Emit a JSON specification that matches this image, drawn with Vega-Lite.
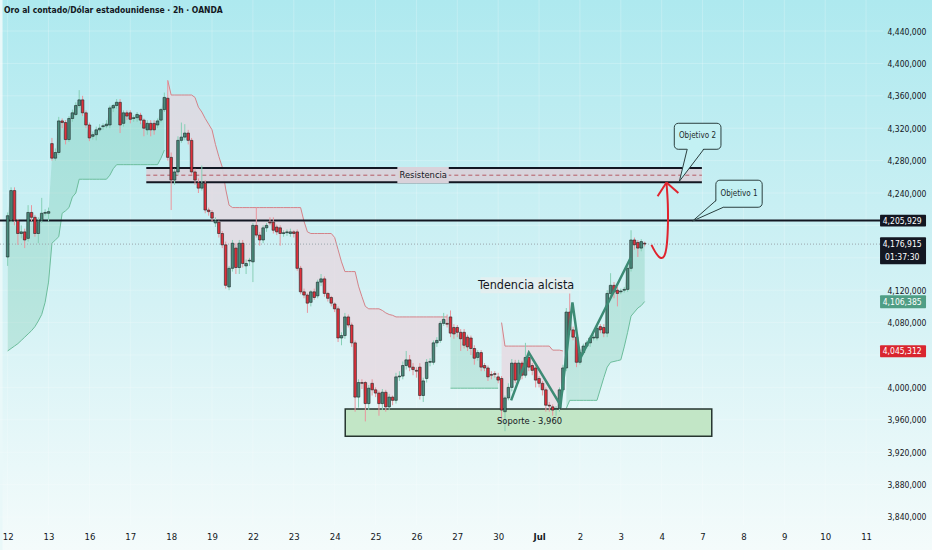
{
  "$schema": "https://vega.github.io/schema/vega-lite/v6.json",
  "width": 883,
  "height": 525,
  "autosize": {"type": "none"},
  "padding": {"left": 0, "top": 0, "right": 49, "bottom": 25},
  "background": "#e9f8f9",
  "title": {"text": "Oro al contado/Dólar estadounidense · 2h · OANDA", "anchor": "start", "frame": "group", "offset": 0, "dx": 4, "dy": 16, "fontSize": 8.5, "fontWeight": "bold", "color": "#131722"},
  "datasets": {
    "candles": [
      {"i":0,"o":4161,"h":4216,"l":4150,"c":4212,"st":4045,"seg":"g1"},
      {"i":1,"o":4206,"h":4247,"l":4204,"c":4243,"st":4048,"seg":"g1"},
      {"i":2,"o":4243,"h":4247,"l":4200,"c":4206,"st":4051,"seg":"g1"},
      {"i":3,"o":4206,"h":4208,"l":4176,"c":4190,"st":4054,"seg":"g1"},
      {"i":4,"o":4190,"h":4200,"l":4184,"c":4192,"st":4058,"seg":"g1"},
      {"i":5,"o":4192,"h":4196,"l":4172,"c":4182,"st":4062,"seg":"g1"},
      {"i":6,"o":4184,"h":4225,"l":4180,"c":4216,"st":4066,"seg":"g1"},
      {"i":7,"o":4216,"h":4225,"l":4205,"c":4210,"st":4070,"seg":"g1"},
      {"i":8,"o":4210,"h":4213,"l":4186,"c":4190,"st":4075,"seg":"g1"},
      {"i":9,"o":4190,"h":4210,"l":4178,"c":4206,"st":4082,"seg":"g1"},
      {"i":10,"o":4206,"h":4234,"l":4203,"c":4215,"st":4090,"seg":"g1"},
      {"i":11,"o":4215,"h":4220,"l":4212,"c":4216,"st":4105,"seg":"g1"},
      {"i":12,"o":4215,"h":4222,"l":4205,"c":4217,"st":4130,"seg":"g1"},
      {"i":13,"o":4301,"h":4308,"l":4280,"c":4283,"st":4178,"seg":"g1"},
      {"i":14,"o":4283,"h":4295,"l":4280,"c":4290,"st":4182,"seg":"g1"},
      {"i":15,"o":4290,"h":4334,"l":4287,"c":4329,"st":4186,"seg":"g1"},
      {"i":16,"o":4329,"h":4332,"l":4320,"c":4327,"st":4215,"seg":"g1"},
      {"i":17,"o":4327,"h":4330,"l":4300,"c":4306,"st":4218,"seg":"g1"},
      {"i":18,"o":4306,"h":4335,"l":4303,"c":4332,"st":4222,"seg":"g1"},
      {"i":19,"o":4332,"h":4343,"l":4328,"c":4339,"st":4235,"seg":"g1"},
      {"i":20,"o":4337,"h":4352,"l":4335,"c":4348,"st":4240,"seg":"g1"},
      {"i":21,"o":4348,"h":4367,"l":4345,"c":4355,"st":4257,"seg":"g1"},
      {"i":22,"o":4355,"h":4360,"l":4335,"c":4339,"st":4257,"seg":"g1"},
      {"i":23,"o":4339,"h":4342,"l":4320,"c":4324,"st":4257,"seg":"g1"},
      {"i":24,"o":4324,"h":4327,"l":4304,"c":4308,"st":4257,"seg":"g1"},
      {"i":25,"o":4310,"h":4316,"l":4306,"c":4312,"st":4257,"seg":"g1"},
      {"i":26,"o":4312,"h":4322,"l":4305,"c":4318,"st":4257,"seg":"g1"},
      {"i":27,"o":4318,"h":4325,"l":4315,"c":4320,"st":4257,"seg":"g1"},
      {"i":28,"o":4322,"h":4326,"l":4318,"c":4323,"st":4257,"seg":"g1"},
      {"i":29,"o":4323,"h":4330,"l":4320,"c":4325,"st":4257,"seg":"g1"},
      {"i":30,"o":4324,"h":4348,"l":4320,"c":4345,"st":4262,"seg":"g1"},
      {"i":31,"o":4345,"h":4350,"l":4340,"c":4348,"st":4270,"seg":"g1"},
      {"i":32,"o":4348,"h":4356,"l":4344,"c":4352,"st":4275,"seg":"g1"},
      {"i":33,"o":4352,"h":4356,"l":4314,"c":4324,"st":4275,"seg":"g1"},
      {"i":34,"o":4326,"h":4342,"l":4322,"c":4339,"st":4275,"seg":"g1"},
      {"i":35,"o":4339,"h":4342,"l":4330,"c":4335,"st":4275,"seg":"g1"},
      {"i":36,"o":4339,"h":4342,"l":4326,"c":4331,"st":4275,"seg":"g1"},
      {"i":37,"o":4332,"h":4336,"l":4328,"c":4333,"st":4275,"seg":"g1"},
      {"i":38,"o":4333,"h":4340,"l":4328,"c":4337,"st":4275,"seg":"g1"},
      {"i":39,"o":4336,"h":4339,"l":4325,"c":4330,"st":4275,"seg":"g1"},
      {"i":40,"o":4330,"h":4332,"l":4310,"c":4320,"st":4275,"seg":"g1"},
      {"i":41,"o":4318,"h":4330,"l":4312,"c":4326,"st":4275,"seg":"g1"},
      {"i":42,"o":4326,"h":4330,"l":4310,"c":4318,"st":4275,"seg":"g1"},
      {"i":43,"o":4326,"h":4330,"l":4312,"c":4318,"st":4275,"seg":"g1"},
      {"i":44,"o":4324,"h":4332,"l":4320,"c":4329,"st":4275,"seg":"g1"},
      {"i":45,"o":4330,"h":4345,"l":4327,"c":4343,"st":4283,"seg":"g1"},
      {"i":46,"o":4343,"h":4364,"l":4340,"c":4358,"st":4293,"seg":"g1"},
      {"i":47,"o":4357,"h":4379,"l":4280,"c":4284,"st":4379,"seg":"r1"},
      {"i":48,"o":4284,"h":4290,"l":4219,"c":4256,"st":4361,"seg":"r1"},
      {"i":49,"o":4256,"h":4270,"l":4250,"c":4266,"st":4361,"seg":"r1"},
      {"i":50,"o":4266,"h":4310,"l":4262,"c":4305,"st":4361,"seg":"r1"},
      {"i":51,"o":4305,"h":4327,"l":4302,"c":4309,"st":4361,"seg":"r1"},
      {"i":52,"o":4309,"h":4325,"l":4305,"c":4314,"st":4361,"seg":"r1"},
      {"i":53,"o":4314,"h":4318,"l":4300,"c":4305,"st":4361,"seg":"r1"},
      {"i":54,"o":4305,"h":4308,"l":4262,"c":4266,"st":4361,"seg":"r1"},
      {"i":55,"o":4266,"h":4270,"l":4250,"c":4256,"st":4358,"seg":"r1"},
      {"i":56,"o":4253,"h":4258,"l":4240,"c":4246,"st":4346,"seg":"r1"},
      {"i":57,"o":4246,"h":4274,"l":4243,"c":4252,"st":4340,"seg":"r1"},
      {"i":58,"o":4252,"h":4256,"l":4215,"c":4219,"st":4332,"seg":"r1"},
      {"i":59,"o":4219,"h":4222,"l":4212,"c":4217,"st":4325,"seg":"r1"},
      {"i":60,"o":4216,"h":4219,"l":4205,"c":4209,"st":4318,"seg":"r1"},
      {"i":61,"o":4203,"h":4210,"l":4198,"c":4206,"st":4300,"seg":"r1"},
      {"i":62,"o":4204,"h":4206,"l":4185,"c":4190,"st":4285,"seg":"r1"},
      {"i":63,"o":4190,"h":4193,"l":4172,"c":4176,"st":4272,"seg":"r1"},
      {"i":64,"o":4176,"h":4180,"l":4122,"c":4126,"st":4245,"seg":"r1"},
      {"i":65,"o":4124,"h":4150,"l":4120,"c":4147,"st":4225,"seg":"r1"},
      {"i":66,"o":4147,"h":4182,"l":4143,"c":4178,"st":4222,"seg":"r1"},
      {"i":67,"o":4172,"h":4178,"l":4140,"c":4148,"st":4222,"seg":"r1"},
      {"i":68,"o":4148,"h":4182,"l":4140,"c":4178,"st":4222,"seg":"r1"},
      {"i":69,"o":4178,"h":4182,"l":4148,"c":4153,"st":4222,"seg":"r1"},
      {"i":70,"o":4150,"h":4158,"l":4140,"c":4153,"st":4222,"seg":"r1"},
      {"i":71,"o":4156,"h":4160,"l":4150,"c":4157,"st":4222,"seg":"r1"},
      {"i":72,"o":4155,"h":4203,"l":4130,"c":4200,"st":4222,"seg":"r1"},
      {"i":73,"o":4200,"h":4222,"l":4185,"c":4188,"st":4222,"seg":"r1"},
      {"i":74,"o":4188,"h":4192,"l":4175,"c":4182,"st":4222,"seg":"r1"},
      {"i":75,"o":4182,"h":4200,"l":4178,"c":4197,"st":4222,"seg":"r1"},
      {"i":76,"o":4197,"h":4203,"l":4192,"c":4200,"st":4222,"seg":"r1"},
      {"i":77,"o":4204,"h":4210,"l":4200,"c":4203,"st":4222,"seg":"r1"},
      {"i":78,"o":4204,"h":4210,"l":4190,"c":4194,"st":4222,"seg":"r1"},
      {"i":79,"o":4198,"h":4201,"l":4188,"c":4192,"st":4222,"seg":"r1"},
      {"i":80,"o":4197,"h":4200,"l":4175,"c":4190,"st":4222,"seg":"r1"},
      {"i":81,"o":4190,"h":4194,"l":4186,"c":4191,"st":4222,"seg":"r1"},
      {"i":82,"o":4191,"h":4195,"l":4187,"c":4192,"st":4222,"seg":"r1"},
      {"i":83,"o":4190,"h":4196,"l":4186,"c":4192,"st":4222,"seg":"r1"},
      {"i":84,"o":4192,"h":4194,"l":4185,"c":4190,"st":4222,"seg":"r1"},
      {"i":85,"o":4192,"h":4195,"l":4144,"c":4147,"st":4222,"seg":"r1"},
      {"i":86,"o":4147,"h":4150,"l":4115,"c":4118,"st":4222,"seg":"r1"},
      {"i":87,"o":4118,"h":4122,"l":4110,"c":4114,"st":4205,"seg":"r1"},
      {"i":88,"o":4114,"h":4116,"l":4092,"c":4104,"st":4192,"seg":"r1"},
      {"i":89,"o":4105,"h":4120,"l":4100,"c":4118,"st":4190,"seg":"r1"},
      {"i":90,"o":4118,"h":4122,"l":4108,"c":4111,"st":4190,"seg":"r1"},
      {"i":91,"o":4113,"h":4133,"l":4110,"c":4130,"st":4190,"seg":"r1"},
      {"i":92,"o":4130,"h":4140,"l":4125,"c":4134,"st":4190,"seg":"r1"},
      {"i":93,"o":4134,"h":4137,"l":4112,"c":4116,"st":4190,"seg":"r1"},
      {"i":94,"o":4116,"h":4118,"l":4106,"c":4110,"st":4190,"seg":"r1"},
      {"i":95,"o":4111,"h":4113,"l":4100,"c":4104,"st":4190,"seg":"r1"},
      {"i":96,"o":4103,"h":4105,"l":4093,"c":4097,"st":4185,"seg":"r1"},
      {"i":97,"o":4097,"h":4100,"l":4056,"c":4061,"st":4170,"seg":"r1"},
      {"i":98,"o":4061,"h":4068,"l":4052,"c":4064,"st":4155,"seg":"r1"},
      {"i":99,"o":4064,"h":4092,"l":4060,"c":4087,"st":4143,"seg":"r1"},
      {"i":100,"o":4087,"h":4090,"l":4074,"c":4077,"st":4143,"seg":"r1"},
      {"i":101,"o":4077,"h":4080,"l":4050,"c":4055,"st":4143,"seg":"r1"},
      {"i":102,"o":4055,"h":4058,"l":3970,"c":3988,"st":4143,"seg":"r1"},
      {"i":103,"o":3988,"h":4010,"l":3975,"c":4006,"st":4125,"seg":"r1"},
      {"i":104,"o":4006,"h":4010,"l":3998,"c":4005,"st":4112,"seg":"r1"},
      {"i":105,"o":4006,"h":4008,"l":3958,"c":3980,"st":4100,"seg":"r1"},
      {"i":106,"o":3980,"h":4003,"l":3972,"c":3999,"st":4097,"seg":"r1"},
      {"i":107,"o":4005,"h":4010,"l":3990,"c":3997,"st":4097,"seg":"r1"},
      {"i":108,"o":3997,"h":4000,"l":3988,"c":3993,"st":4097,"seg":"r1"},
      {"i":109,"o":3993,"h":3996,"l":3965,"c":3980,"st":4097,"seg":"r1"},
      {"i":110,"o":3980,"h":3998,"l":3972,"c":3994,"st":4095,"seg":"r1"},
      {"i":111,"o":3994,"h":3997,"l":3970,"c":3976,"st":4092,"seg":"r1"},
      {"i":112,"o":3976,"h":3992,"l":3972,"c":3988,"st":4090,"seg":"r1"},
      {"i":113,"o":3988,"h":3990,"l":3978,"c":3984,"st":4089,"seg":"r1"},
      {"i":114,"o":3984,"h":4018,"l":3980,"c":4013,"st":4087,"seg":"r1"},
      {"i":115,"o":4013,"h":4020,"l":4008,"c":4014,"st":4087,"seg":"r1"},
      {"i":116,"o":4014,"h":4032,"l":4010,"c":4027,"st":4087,"seg":"r1"},
      {"i":117,"o":4027,"h":4045,"l":4022,"c":4034,"st":4087,"seg":"r1"},
      {"i":118,"o":4034,"h":4040,"l":4020,"c":4025,"st":4087,"seg":"r1"},
      {"i":119,"o":4025,"h":4030,"l":4015,"c":4022,"st":4087,"seg":"r1"},
      {"i":120,"o":4021,"h":4025,"l":4012,"c":4020,"st":4087,"seg":"r1"},
      {"i":121,"o":4025,"h":4030,"l":3985,"c":3990,"st":4087,"seg":"r1"},
      {"i":122,"o":3990,"h":4012,"l":3982,"c":4008,"st":4087,"seg":"r1"},
      {"i":123,"o":4011,"h":4035,"l":4006,"c":4031,"st":4087,"seg":"r1"},
      {"i":124,"o":4031,"h":4036,"l":4026,"c":4032,"st":4087,"seg":"r1"},
      {"i":125,"o":4031,"h":4058,"l":4028,"c":4055,"st":4087,"seg":"r1"},
      {"i":126,"o":4055,"h":4062,"l":4050,"c":4058,"st":4087,"seg":"r1"},
      {"i":127,"o":4058,"h":4082,"l":4055,"c":4079,"st":4087,"seg":"r1"},
      {"i":128,"o":4079,"h":4092,"l":4076,"c":4084,"st":4087,"seg":"r1"},
      {"i":129,"o":4079,"h":4090,"l":4074,"c":4078,"st":4087,"seg":"r1"},
      {"i":130,"o":4087,"h":4095,"l":4062,"c":4067,"st":3999,"seg":"g2"},
      {"i":131,"o":4074,"h":4078,"l":4060,"c":4066,"st":3999,"seg":"g2"},
      {"i":132,"o":4074,"h":4077,"l":4062,"c":4068,"st":3999,"seg":"g2"},
      {"i":133,"o":4068,"h":4072,"l":4045,"c":4060,"st":3999,"seg":"g2"},
      {"i":134,"o":4068,"h":4072,"l":4048,"c":4052,"st":3999,"seg":"g2"},
      {"i":135,"o":4062,"h":4065,"l":4045,"c":4050,"st":3999,"seg":"g2"},
      {"i":136,"o":4061,"h":4064,"l":4040,"c":4048,"st":3999,"seg":"g2"},
      {"i":137,"o":4048,"h":4052,"l":4028,"c":4036,"st":3999,"seg":"g2"},
      {"i":138,"o":4037,"h":4046,"l":4033,"c":4043,"st":3999,"seg":"g2"},
      {"i":139,"o":4043,"h":4046,"l":4020,"c":4025,"st":3999,"seg":"g2"},
      {"i":140,"o":4027,"h":4030,"l":4020,"c":4024,"st":3999,"seg":"g2"},
      {"i":141,"o":4024,"h":4027,"l":4008,"c":4013,"st":3999,"seg":"g2"},
      {"i":142,"o":4016,"h":4020,"l":4010,"c":4015,"st":3999,"seg":"g2"},
      {"i":143,"o":4017,"h":4020,"l":4012,"c":4016,"st":3999,"seg":"g2"},
      {"i":144,"o":4013,"h":4018,"l":4005,"c":4009,"st":3999,"seg":"g2"},
      {"i":145,"o":4011,"h":4014,"l":3960,"c":3972,"st":4080,"seg":"r2"},
      {"i":146,"o":3970,"h":3990,"l":3946,"c":3987,"st":4051,"seg":"r2"},
      {"i":147,"o":3987,"h":4005,"l":3984,"c":4000,"st":4051,"seg":"r2"},
      {"i":148,"o":4000,"h":4035,"l":3995,"c":4030,"st":4051,"seg":"r2"},
      {"i":149,"o":4030,"h":4034,"l":4005,"c":4009,"st":4051,"seg":"r2"},
      {"i":150,"o":4009,"h":4034,"l":4005,"c":4030,"st":4051,"seg":"r2"},
      {"i":151,"o":4030,"h":4033,"l":4010,"c":4015,"st":4051,"seg":"r2"},
      {"i":152,"o":4015,"h":4055,"l":4012,"c":4037,"st":4051,"seg":"r2"},
      {"i":153,"o":4037,"h":4040,"l":4020,"c":4025,"st":4051,"seg":"r2"},
      {"i":154,"o":4027,"h":4030,"l":4015,"c":4021,"st":4051,"seg":"r2"},
      {"i":155,"o":4024,"h":4027,"l":4000,"c":4009,"st":4051,"seg":"r2"},
      {"i":156,"o":4011,"h":4014,"l":4000,"c":4005,"st":4051,"seg":"r2"},
      {"i":157,"o":4005,"h":4008,"l":3990,"c":3997,"st":4051,"seg":"r2"},
      {"i":158,"o":3997,"h":4000,"l":3970,"c":3978,"st":4051,"seg":"r2"},
      {"i":159,"o":3978,"h":3982,"l":3970,"c":3977,"st":4051,"seg":"r2"},
      {"i":160,"o":3976,"h":3979,"l":3965,"c":3972,"st":4046,"seg":"r2"},
      {"i":161,"o":3973,"h":3977,"l":3965,"c":3974,"st":4046,"seg":"r2"},
      {"i":162,"o":3974,"h":4000,"l":3970,"c":3997,"st":4046,"seg":"r2"},
      {"i":163,"o":3997,"h":4028,"l":3994,"c":4024,"st":4045,"seg":"r2"},
      {"i":164,"o":4024,"h":4098,"l":4020,"c":4093,"st":3974,"seg":"g3"},
      {"i":165,"o":4093,"h":4116,"l":4068,"c":4071,"st":3984,"seg":"g3"},
      {"i":166,"o":4071,"h":4075,"l":4058,"c":4062,"st":3984,"seg":"g3"},
      {"i":167,"o":4062,"h":4065,"l":4025,"c":4031,"st":3984,"seg":"g3"},
      {"i":168,"o":4031,"h":4047,"l":4028,"c":4043,"st":3984,"seg":"g3"},
      {"i":169,"o":4043,"h":4054,"l":4040,"c":4051,"st":3984,"seg":"g3"},
      {"i":170,"o":4051,"h":4058,"l":4048,"c":4055,"st":3984,"seg":"g3"},
      {"i":171,"o":4055,"h":4064,"l":4050,"c":4061,"st":3984,"seg":"g3"},
      {"i":172,"o":4061,"h":4065,"l":4058,"c":4062,"st":3984,"seg":"g3"},
      {"i":173,"o":4061,"h":4076,"l":4058,"c":4073,"st":3984,"seg":"g3"},
      {"i":174,"o":4075,"h":4078,"l":4067,"c":4071,"st":3998,"seg":"g3"},
      {"i":175,"o":4074,"h":4078,"l":4062,"c":4067,"st":4012,"seg":"g3"},
      {"i":176,"o":4067,"h":4120,"l":4062,"c":4116,"st":4025,"seg":"g3"},
      {"i":177,"o":4116,"h":4141,"l":4112,"c":4126,"st":4031,"seg":"g3"},
      {"i":178,"o":4126,"h":4130,"l":4110,"c":4118,"st":4032,"seg":"g3"},
      {"i":179,"o":4120,"h":4124,"l":4100,"c":4116,"st":4033,"seg":"g3"},
      {"i":180,"o":4118,"h":4122,"l":4115,"c":4119,"st":4034,"seg":"g3"},
      {"i":181,"o":4120,"h":4124,"l":4117,"c":4121,"st":4050,"seg":"g3"},
      {"i":182,"o":4121,"h":4150,"l":4118,"c":4147,"st":4068,"seg":"g3"},
      {"i":183,"o":4147,"h":4194,"l":4143,"c":4182,"st":4088,"seg":"g3"},
      {"i":184,"o":4182,"h":4185,"l":4170,"c":4176,"st":4093,"seg":"g3"},
      {"i":185,"o":4179,"h":4182,"l":4161,"c":4172,"st":4098,"seg":"g3"},
      {"i":186,"o":4172,"h":4183,"l":4168,"c":4180,"st":4101,"seg":"g3"},
      {"i":187,"o":4178,"h":4180,"l":4174,"c":4177,"st":4106,"seg":"g3"}
    ]
  },
  "layer": [
    {
      "data": {"values": [{"x1": -1.5, "x2": 272, "y1": 3799, "y2": 4478.3}]},
      "mark": {"type": "rect", "fill": {"gradient": "linear", "x1": 0, "y1": 0, "x2": 0, "y2": 1, "stops": [{"offset": 0, "color": "#aee9ef"}, {"offset": 0.55, "color": "#d4f2f5"}, {"offset": 1, "color": "#f4fbfb"}]}},
      "encoding": {
        "x": {"field": "x1", "type": "quantitative", "title": null, "scale": {"domain": [-0.78, 255.5], "nice": false, "zero": false},
          "axis": {"zindex": 2, "labelOverlap": false, "labelFlush": false, "tickCount": 40, "values": [0,12,24,36,48,60,72,84,96,108,120,132,144,156,168,180,192,204,216,228,240,252],
            "labelExpr": "['12','13','16','17','18','19','22','23','24','25','26','27','30','Jul','2','3','4','7','8','9','10','11'][round(datum.value/12)]",
            "labelFontWeight": {"condition": {"test": "datum.value == 156", "value": "bold"}, "value": "normal"}}},
        "x2": {"field": "x2"},
        "y": {"field": "y1", "type": "quantitative", "title": null, "scale": {"domain": [3830.1, 4478.3], "nice": false, "zero": false},
          "axis": {"zindex": 2, "labelOverlap": false, "tickCount": 40, "orient": "right", "values": [3840,3880,3920,3960,4000,4080,4120,4240,4280,4320,4360,4400,4440,4480],
            "labelExpr": "replace(format(datum.value, ',.3f'), '.', ',')"}},
        "y2": {"field": "y2"}
      }
    },
    {
      "data": {"values": [{"v":0},{"v":12},{"v":24},{"v":36},{"v":48},{"v":60},{"v":72},{"v":84},{"v":96},{"v":108},{"v":120},{"v":132},{"v":144},{"v":156},{"v":168},{"v":180},{"v":192},{"v":204},{"v":216},{"v":228},{"v":240},{"v":252}]},
      "mark": {"type": "rule", "color": "#ffffff", "opacity": 0.22, "strokeWidth": 1},
      "encoding": {
        "x": {"field": "v", "type": "quantitative", "title": null, "scale": {"domain": [-0.78, 255.5], "nice": false, "zero": false}}
      }
    },
    {
      "data": {"values": [{"v":3840},{"v":3880},{"v":3920},{"v":3960},{"v":4000},{"v":4040},{"v":4080},{"v":4120},{"v":4160},{"v":4200},{"v":4240},{"v":4280},{"v":4320},{"v":4360},{"v":4400},{"v":4440},{"v":4480}]},
      "mark": {"type": "rule", "color": "#ffffff", "opacity": 0.22, "strokeWidth": 1},
      "encoding": {
        "y": {"field": "v", "type": "quantitative", "title": null, "scale": {"domain": [3830.1, 4478.3], "nice": false, "zero": false}}
      }
    },
    {
      "data": {"name": "candles"},
      "mark": {"type": "area", "interpolate": "linear"},
      "encoding": {
        "x": {"field": "i", "type": "quantitative", "title": null, "scale": {"domain": [-0.78, 255.5], "nice": false, "zero": false}},
        "y": {"field": "st", "type": "quantitative", "title": null, "scale": {"domain": [3830.1, 4478.3], "nice": false, "zero": false}},
        "y2": {"field": "c"},
        "fill": {"field": "seg", "type": "nominal", "scale": {"domain": ["g1","r1","g2","r2","g3"], "range": ["rgba(90,190,150,0.24)","rgba(232,214,222,0.72)","rgba(90,190,150,0.24)","rgba(232,214,222,0.72)","rgba(90,190,150,0.24)"]}, "legend": null}
      }
    },
    {
      "data": {"name": "candles"},
      "mark": {"type": "line", "strokeWidth": 1},
      "encoding": {
        "x": {"field": "i", "type": "quantitative", "title": null, "scale": {"domain": [-0.78, 255.5], "nice": false, "zero": false}},
        "y": {"field": "st", "type": "quantitative", "title": null, "scale": {"domain": [3830.1, 4478.3], "nice": false, "zero": false}},
        "stroke": {"field": "seg", "type": "nominal", "scale": {"domain": ["g1","r1","g2","r2","g3"], "range": ["#6cbd9c","#d48389","#6cbd9c","#d48389","#6cbd9c"]}, "legend": null}
      }
    },
    {
      "data": {"values": [{"x1": 40.7, "x2": 203.8, "y1": 4253.3, "y2": 4271}]},
      "mark": {"type": "rect", "fill": "#d9d2da", "opacity": 0.95},
      "encoding": {
        "x": {"field": "x1", "type": "quantitative", "title": null, "scale": {"domain": [-0.78, 255.5], "nice": false, "zero": false}},
        "x2": {"field": "x2"},
        "y": {"field": "y1", "type": "quantitative", "title": null, "scale": {"domain": [3830.1, 4478.3], "nice": false, "zero": false}},
        "y2": {"field": "y2"}
      }
    },
    {
      "data": {"values": [{"x1": 40.7, "x2": 203.8, "y": 4271}, {"x1": 40.7, "x2": 203.8, "y": 4253.3}]},
      "mark": {"type": "rule", "color": "#131722", "strokeWidth": 2},
      "encoding": {
        "x": {"field": "x1", "type": "quantitative", "title": null, "scale": {"domain": [-0.78, 255.5], "nice": false, "zero": false}},
        "x2": {"field": "x2"},
        "y": {"field": "y", "type": "quantitative", "title": null, "scale": {"domain": [3830.1, 4478.3], "nice": false, "zero": false}}
      }
    },
    {
      "data": {"values": [{"x1": 40.7, "x2": 203.8, "y": 4262}]},
      "mark": {"type": "rule", "color": "#b45a64", "strokeWidth": 1, "strokeDash": [4, 3]},
      "encoding": {
        "x": {"field": "x1", "type": "quantitative", "title": null, "scale": {"domain": [-0.78, 255.5], "nice": false, "zero": false}},
        "x2": {"field": "x2"},
        "y": {"field": "y", "type": "quantitative", "title": null, "scale": {"domain": [3830.1, 4478.3], "nice": false, "zero": false}}
      }
    },
    {
      "data": {"values": [{"x1": 99.1, "x2": 206.7, "y1": 3939.7, "y2": 3973.4}]},
      "mark": {"type": "rect", "fill": "#c2e6c6", "stroke": "#26352f", "strokeWidth": 1.5},
      "encoding": {
        "x": {"field": "x1", "type": "quantitative", "title": null, "scale": {"domain": [-0.78, 255.5], "nice": false, "zero": false}},
        "x2": {"field": "x2"},
        "y": {"field": "y1", "type": "quantitative", "title": null, "scale": {"domain": [3830.1, 4478.3], "nice": false, "zero": false}},
        "y2": {"field": "y2"}
      }
    },
    {
      "data": {"values": [{"y": 4205.929}]},
      "mark": {"type": "rule", "color": "#131722", "strokeWidth": 2},
      "encoding": {
        "y": {"field": "y", "type": "quantitative", "title": null, "scale": {"domain": [3830.1, 4478.3], "nice": false, "zero": false}}
      }
    },
    {
      "data": {"values": [{"y": 4176.915}]},
      "mark": {"type": "rule", "color": "#9aa5ab", "strokeWidth": 1, "strokeDash": [1, 2]},
      "encoding": {
        "y": {"field": "y", "type": "quantitative", "title": null, "scale": {"domain": [3830.1, 4478.3], "nice": false, "zero": false}}
      }
    },
    {
      "data": {"name": "candles"},
      "mark": {"type": "rule", "strokeWidth": 1},
      "encoding": {
        "x": {"field": "i", "type": "quantitative", "title": null, "scale": {"domain": [-0.78, 255.5], "nice": false, "zero": false}},
        "y": {"field": "l", "type": "quantitative", "title": null, "scale": {"domain": [3830.1, 4478.3], "nice": false, "zero": false}},
        "y2": {"field": "h"},
        "color": {"condition": {"test": "datum.c >= datum.o", "value": "#86cfb6"}, "value": "#e8959d"}
      }
    },
    {
      "data": {"name": "candles"},
      "mark": {"type": "bar", "size": 2.6, "stroke": "#1b2626", "strokeWidth": 0.6},
      "encoding": {
        "x": {"field": "i", "type": "quantitative", "title": null, "scale": {"domain": [-0.78, 255.5], "nice": false, "zero": false}},
        "y": {"field": "o", "type": "quantitative", "title": null, "scale": {"domain": [3830.1, 4478.3], "nice": false, "zero": false}},
        "y2": {"field": "c"},
        "fill": {"condition": {"test": "datum.c >= datum.o", "value": "#4a8a7b"}, "value": "#e0303b"}
      }
    },
    {
      "data": {"values": [{"x1": 114.4, "x2": 129.5, "y1": 4252.2, "y2": 4272.2}]},
      "mark": {"type": "rect", "fill": "#d9d2da"},
      "encoding": {
        "x": {"field": "x1", "type": "quantitative", "title": null, "scale": {"domain": [-0.78, 255.5], "nice": false, "zero": false}},
        "x2": {"field": "x2"},
        "y": {"field": "y1", "type": "quantitative", "title": null, "scale": {"domain": [3830.1, 4478.3], "nice": false, "zero": false}},
        "y2": {"field": "y2"}
      }
    },
    {
      "data": {"values": [{"x1": 138.8, "x2": 165.5, "y1": 4116.3, "y2": 4136}]},
      "mark": {"type": "rect", "fill": "#e4eeef", "opacity": 0.9},
      "encoding": {
        "x": {"field": "x1", "type": "quantitative", "title": null, "scale": {"domain": [-0.78, 255.5], "nice": false, "zero": false}},
        "x2": {"field": "x2"},
        "y": {"field": "y1", "type": "quantitative", "title": null, "scale": {"domain": [3830.1, 4478.3], "nice": false, "zero": false}},
        "y2": {"field": "y2"}
      }
    },
    {
      "data": {"values": [
        {"x": 122, "y": 4262, "t": "Resistencia"},
        {"x": 153.2, "y": 3958.5, "t": "Soporte - 3,960"}
      ]},
      "mark": {"type": "text", "align": "center", "baseline": "middle", "color": "#131722", "fontSize": 9.3},
      "encoding": {
        "x": {"field": "x", "type": "quantitative", "title": null, "scale": {"domain": [-0.78, 255.5], "nice": false, "zero": false}},
        "y": {"field": "y", "type": "quantitative", "title": null, "scale": {"domain": [3830.1, 4478.3], "nice": false, "zero": false}},
        "text": {"field": "t"}
      }
    },
    {
      "data": {"values": [{"x": 152.2, "y": 4126, "t": "Tendencia alcista"}]},
      "mark": {"type": "text", "align": "center", "baseline": "middle", "color": "#131722", "fontSize": 12.5},
      "encoding": {
        "x": {"field": "x", "type": "quantitative", "title": null, "scale": {"domain": [-0.78, 255.5], "nice": false, "zero": false}},
        "y": {"field": "y", "type": "quantitative", "title": null, "scale": {"domain": [3830.1, 4478.3], "nice": false, "zero": false}},
        "text": {"field": "t"}
      }
    },
    {
      "data": {"values": [
        {"x": 147.8, "y": 3984}, {"x": 153.0, "y": 4043}, {"x": 162.3, "y": 3978},
        {"x": 165.8, "y": 4105}, {"x": 168.1, "y": 4036}, {"x": 182.9, "y": 4160}
      ]},
      "mark": {"type": "line", "color": "#3d8b75", "strokeWidth": 2.5},
      "encoding": {
        "x": {"field": "x", "type": "quantitative", "title": null, "scale": {"domain": [-0.78, 255.5], "nice": false, "zero": false}},
        "y": {"field": "y", "type": "quantitative", "title": null, "scale": {"domain": [3830.1, 4478.3], "nice": false, "zero": false}}
      }
    },
    {
      "data": {"values": [
        {"k": 0, "x": 189.0, "y": 4176}, {"k": 1, "x": 190.3, "y": 4166}, {"k": 2, "x": 191.6, "y": 4160},
        {"k": 3, "x": 192.7, "y": 4162}, {"k": 4, "x": 193.4, "y": 4173}, {"k": 5, "x": 193.8, "y": 4196},
        {"k": 6, "x": 193.8, "y": 4226}, {"k": 7, "x": 193.4, "y": 4253}
      ]},
      "mark": {"type": "line", "color": "#e0242e", "strokeWidth": 2, "interpolate": "cardinal"},
      "encoding": {
        "x": {"field": "x", "type": "quantitative", "title": null, "scale": {"domain": [-0.78, 255.5], "nice": false, "zero": false}},
        "y": {"field": "y", "type": "quantitative", "title": null, "scale": {"domain": [3830.1, 4478.3], "nice": false, "zero": false}},
        "order": {"field": "k", "type": "quantitative"}
      }
    },
    {
      "data": {"values": [
        {"x": 190.8, "y": 4236, "x2": 193.4, "y2": 4253},
        {"x": 196.9, "y": 4240, "x2": 193.4, "y2": 4253}
      ]},
      "mark": {"type": "rule", "color": "#e0242e", "strokeWidth": 2},
      "encoding": {
        "x": {"field": "x", "type": "quantitative", "title": null, "scale": {"domain": [-0.78, 255.5], "nice": false, "zero": false}},
        "y": {"field": "y", "type": "quantitative", "title": null, "scale": {"domain": [3830.1, 4478.3], "nice": false, "zero": false}},
        "x2": {"field": "x2"},
        "y2": {"field": "y2"}
      }
    },
    {
      "data": {"values": [
        {"x1": 195.7, "x2": 209.4, "y1": 4294, "y2": 4326.1},
        {"x1": 207.9, "x2": 221.5, "y1": 4222.4, "y2": 4255.8}
      ]},
      "mark": {"type": "rect", "fill": "#c3f1f3", "stroke": "#2b3f3f", "strokeWidth": 1, "cornerRadius": 4},
      "encoding": {
        "x": {"field": "x1", "type": "quantitative", "title": null, "scale": {"domain": [-0.78, 255.5], "nice": false, "zero": false}},
        "x2": {"field": "x2"},
        "y": {"field": "y1", "type": "quantitative", "title": null, "scale": {"domain": [3830.1, 4478.3], "nice": false, "zero": false}},
        "y2": {"field": "y2"}
      }
    },
    {
      "data": {"values": [
        {"g": "a", "x": 197.2, "y": 4254.5, "y2": 4254.5},
        {"g": "a", "x": 199.5, "y": 4295.5, "y2": 4267.1},
        {"g": "a", "x": 204.4, "y": 4295.5, "y2": 4295.5},
        {"g": "b", "x": 201.1, "y": 4205.5, "y2": 4205.5},
        {"g": "b", "x": 208.2, "y": 4231, "y2": 4218.4},
        {"g": "b", "x": 210.2, "y": 4223.6, "y2": 4222}
      ]},
      "mark": {"type": "area", "fill": "#c3f1f3"},
      "encoding": {
        "x": {"field": "x", "type": "quantitative", "title": null, "scale": {"domain": [-0.78, 255.5], "nice": false, "zero": false}},
        "y": {"field": "y", "type": "quantitative", "title": null, "scale": {"domain": [3830.1, 4478.3], "nice": false, "zero": false}},
        "y2": {"field": "y2"},
        "detail": {"field": "g"}
      }
    },
    {
      "data": {"values": [
        {"x": 197.2, "y": 4254.5, "x2": 199.5, "y2": 4294.3},
        {"x": 197.2, "y": 4254.5, "x2": 204.4, "y2": 4294.3},
        {"x": 201.1, "y": 4205.5, "x2": 208.0, "y2": 4231},
        {"x": 201.1, "y": 4205.5, "x2": 210.2, "y2": 4222.6}
      ]},
      "mark": {"type": "rule", "color": "#2b3f3f", "strokeWidth": 1},
      "encoding": {
        "x": {"field": "x", "type": "quantitative", "title": null, "scale": {"domain": [-0.78, 255.5], "nice": false, "zero": false}},
        "y": {"field": "y", "type": "quantitative", "title": null, "scale": {"domain": [3830.1, 4478.3], "nice": false, "zero": false}},
        "x2": {"field": "x2"},
        "y2": {"field": "y2"}
      }
    },
    {
      "data": {"values": [
        {"x": 202.5, "y": 4310, "t": "Objetivo 2"},
        {"x": 214.7, "y": 4239, "t": "Objetivo 1"}
      ]},
      "mark": {"type": "text", "align": "center", "baseline": "middle", "color": "#1d2b2b", "fontSize": 8},
      "encoding": {
        "x": {"field": "x", "type": "quantitative", "title": null, "scale": {"domain": [-0.78, 255.5], "nice": false, "zero": false}},
        "y": {"field": "y", "type": "quantitative", "title": null, "scale": {"domain": [3830.1, 4478.3], "nice": false, "zero": false}},
        "text": {"field": "t"}
      }
    },
    {
      "data": {"values": [
        {"x1": 256.1, "x2": 269.6, "y1": 4198.5, "y2": 4213.3, "k": "line"},
        {"x1": 256.1, "x2": 269.6, "y1": 4152, "y2": 4185.4, "k": "price"},
        {"x1": 256.1, "x2": 269.6, "y1": 4097.7, "y2": 4113.8, "k": "up"},
        {"x1": 256.1, "x2": 269.6, "y1": 4037.2, "y2": 4052, "k": "down"}
      ]},
      "mark": {"type": "rect", "cornerRadius": 1},
      "encoding": {
        "x": {"field": "x1", "type": "quantitative", "title": null, "scale": {"domain": [-0.78, 255.5], "nice": false, "zero": false}},
        "x2": {"field": "x2"},
        "y": {"field": "y1", "type": "quantitative", "title": null, "scale": {"domain": [3830.1, 4478.3], "nice": false, "zero": false}},
        "y2": {"field": "y2"},
        "color": {"field": "k", "type": "nominal", "scale": {"domain": ["line", "price", "up", "down"], "range": ["#131722", "#131722", "#4f9e85", "#d9262f"]}, "legend": null}
      }
    },
    {
      "data": {"values": [
        {"x": 262.6, "y": 4205.9, "t": "4,205,929"},
        {"x": 262.6, "y": 4177.2, "t": "4,176,915"},
        {"x": 262.6, "y": 4160.8, "t": "01:37:30"},
        {"x": 262.6, "y": 4105.8, "t": "4,106,385"},
        {"x": 262.6, "y": 4044.6, "t": "4,045,312"}
      ]},
      "mark": {"type": "text", "align": "center", "baseline": "middle", "color": "#ffffff", "fontSize": 8.5},
      "encoding": {
        "x": {"field": "x", "type": "quantitative", "title": null, "scale": {"domain": [-0.78, 255.5], "nice": false, "zero": false}},
        "y": {"field": "y", "type": "quantitative", "title": null, "scale": {"domain": [3830.1, 4478.3], "nice": false, "zero": false}},
        "text": {"field": "t"}
      }
    }
  ],
  "config": {
    "font": "DejaVu Sans Condensed, Liberation Sans Narrow, Liberation Sans, sans-serif",
    "view": {"stroke": null},
    "axis": {"grid": false, "domain": false, "ticks": false, "labelColor": "#131722", "labelOverlap": false},
    "axisX": {"labelPadding": 6, "labelFontSize": 9.5},
    "axisY": {"labelPadding": 4, "labelFontSize": 8.5, "labelAlign": "left", "labelBaseline": "middle"}
  }
}
